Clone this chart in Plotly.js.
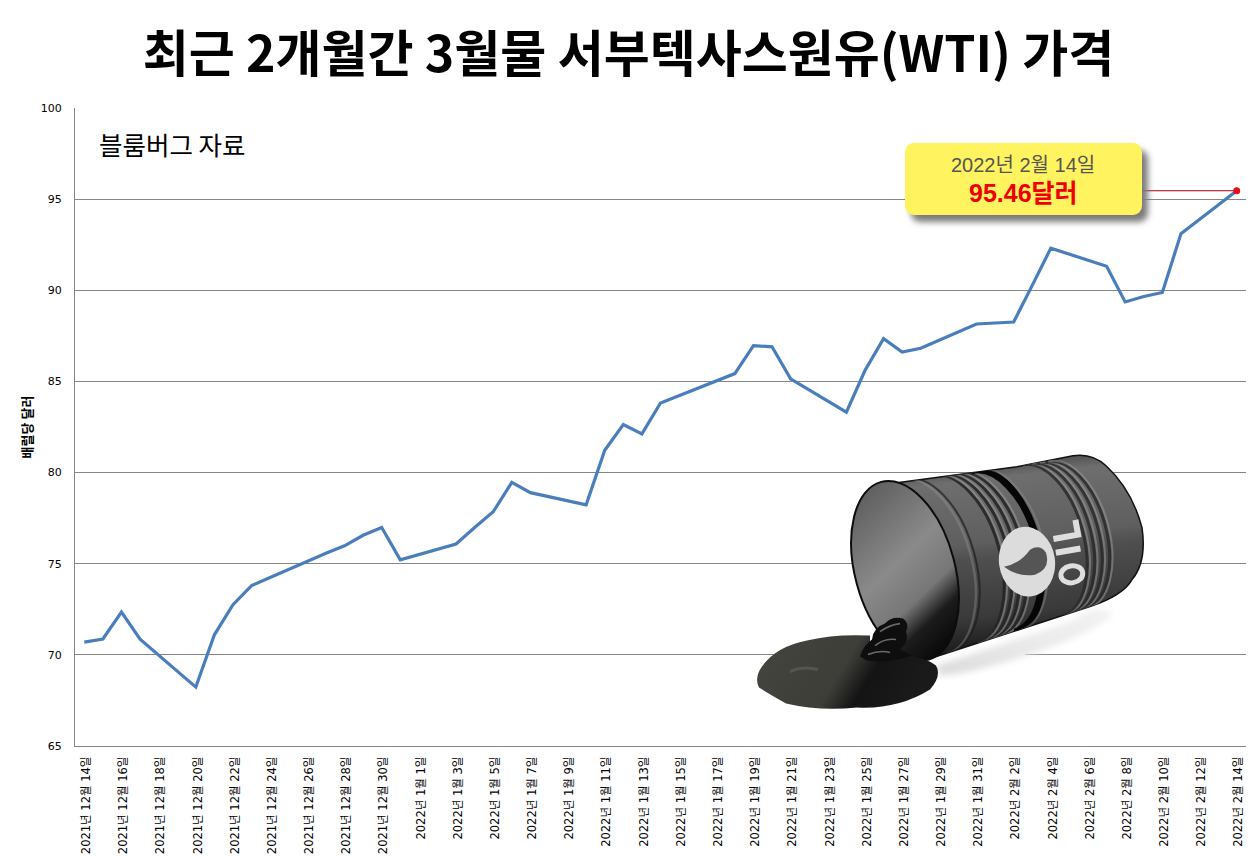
<!DOCTYPE html>
<html><head><meta charset="utf-8">
<script src="https://cdn.plot.ly/plotly-3.0.1.min.js"></script>
<style>html,body{margin:0;padding:0;background:#fff}</style></head>
<body><div id="chart" style="width:1260px;height:863px"></div>
<script>
const titleText = '최근 2개월간 3월물 서부텍사스원유(WTI) 가격';
const yTitle = '배럴당 달러';
const sourceText = '블룸버그 자료';
const dates = ['2021-12-14','2021-12-15','2021-12-16','2021-12-17','2021-12-20','2021-12-21','2021-12-22','2021-12-23','2021-12-27','2021-12-28','2021-12-29','2021-12-30','2021-12-31','2022-01-03','2022-01-04','2022-01-05','2022-01-06','2022-01-07','2022-01-10','2022-01-11','2022-01-12','2022-01-13','2022-01-14','2022-01-18','2022-01-19','2022-01-20','2022-01-21','2022-01-24','2022-01-25','2022-01-26','2022-01-27','2022-01-28','2022-01-31','2022-02-01','2022-02-02','2022-02-03','2022-02-04','2022-02-07','2022-02-08','2022-02-09','2022-02-10','2022-02-11','2022-02-14'];
const prices = [70.7,70.87,72.35,70.86,68.23,71.1,72.75,73.8,75.57,75.98,76.56,76.99,75.21,76.08,76.99,77.85,79.46,78.9,78.23,81.22,82.64,82.12,83.82,85.43,86.96,86.9,85.14,83.31,85.6,87.35,86.61,86.82,88.15,88.2,88.26,90.27,92.31,91.32,89.36,89.66,89.88,93.1,95.46];
const tickDates = ['2021-12-14','2021-12-16','2021-12-18','2021-12-20','2021-12-22','2021-12-24','2021-12-26','2021-12-28','2021-12-30','2022-01-01','2022-01-03','2022-01-05','2022-01-07','2022-01-09','2022-01-11','2022-01-13','2022-01-15','2022-01-17','2022-01-19','2022-01-21','2022-01-23','2022-01-25','2022-01-27','2022-01-29','2022-01-31','2022-02-02','2022-02-04','2022-02-06','2022-02-08','2022-02-10','2022-02-12','2022-02-14'];
const tickLabels = tickDates.map(d=>{const [y,m,a]=d.split('-').map(Number);return `${y}년 ${m}월 ${a}일`;});
const yTicks = [65,70,75,80,85,90,95,100];
const lastDate = dates[dates.length-1], lastPrice = prices[prices.length-1];

// decorative oil-drum illustration (not data)
function rib(dx,w,c,op){const s=1-dx*0.00107,cx=165+dx,cy=121-dx*0.219;
 return `<path d="M${cx-24*s} ${cy-89*s} A${50*s} ${92*s} -15 0 1 ${cx+24*s} ${cy+89*s}" fill="none" stroke="${c}" stroke-width="${w}" opacity="${op||1}"/>`;}
const ribs=[];
[48,56,64,72].forEach(d=>{ribs.push(rib(d,3,'#262626',.9));ribs.push(rib(d+3,2,'#9a9a9a',.55));});
ribs.push(rib(88,7,'#060606'));ribs.push(rib(94,2,'#8a8a8a',.5));ribs.push(rib(18,2.5,'#9a9a9a',.35));ribs.push(rib(22,2,'#1c1c1c',.7));
[136,144,152,160].forEach(d=>{ribs.push(rib(d,3,'#2a2a2a',.85));ribs.push(rib(d+3,2,'#a0a0a0',.5));});
const barrel = `<svg xmlns="http://www.w3.org/2000/svg" width="420" height="270" viewBox="0 0 420 270">
<defs>
<linearGradient id="b" x1="0.42" y1="0" x2="0.58" y2="1"><stop offset="0" stop-color="#3a3a3a"/><stop offset=".12" stop-color="#6e6e6e"/><stop offset=".42" stop-color="#5f5f5f"/><stop offset=".5" stop-color="#4f4f4f"/><stop offset=".78" stop-color="#3a3a3a"/><stop offset="1" stop-color="#111"/></linearGradient>
<linearGradient id="f" x1="0.3" y1="0" x2="0.6" y2="1"><stop offset="0" stop-color="#5c5c5c"/><stop offset=".45" stop-color="#8a8a8a"/><stop offset=".68" stop-color="#777"/><stop offset=".82" stop-color="#1c1c1c"/><stop offset="1" stop-color="#080808"/></linearGradient>
<linearGradient id="p" x1="0" y1="0" x2="1" y2="0.25"><stop offset="0" stop-color="#45453f"/><stop offset=".55" stop-color="#3e3e39"/><stop offset=".72" stop-color="#141414"/><stop offset="1" stop-color="#1a1a1a"/></linearGradient>
<linearGradient id="sh" x1="0" y1="1" x2="1" y2="0"><stop offset="0" stop-color="#dcdcdc"/><stop offset=".6" stop-color="#ececec"/><stop offset="1" stop-color="#f3f3f3"/></linearGradient>
<clipPath id="c"><path d="M157 33 L277 17 L333 6 Q352 3 366 16 Q392 40 402 78 Q407 112 392 130 Q383 146 350 157 L193 208 L160 170 L113 90 Z"/></clipPath>
<filter id="s" x="-20%" y="-50%" width="140%" height="200%"><feGaussianBlur stdDeviation="3"/></filter>
</defs>
<path d="M190 198 H285 V232 H190Z" fill="#fff"/>
<path d="M196 216 L330 172 L350 160 Q372 158 372 166 Q350 186 280 208 Q225 226 200 226Z" fill="url(#sh)" filter="url(#s)"/>
<path d="M157 33 L277 17 L333 6 Q352 3 366 16 Q392 40 402 78 Q407 112 392 130 Q383 146 350 157 L193 208 L160 170 L113 90 Z" fill="url(#b)" stroke="#111" stroke-width="1.5"/>
<g clip-path="url(#c)">${ribs.join('')}</g>
<ellipse cx="165" cy="121" rx="50" ry="92" transform="rotate(-15 165 121)" fill="url(#f)" stroke="#0c0c0c" stroke-width="2"/>
<ellipse cx="287" cy="112" rx="28" ry="35" transform="rotate(-8 287 112)" fill="#dcdcdc"/>
<path d="M264 117 Q280 114 290 100 Q300 94 306 103 Q311 119 295 125 Q278 128 264 117Z" fill="#555"/>
<g fill="none" stroke="#dedede" transform="rotate(-10 328 103)">
<ellipse cx="328" cy="125" rx="11" ry="8.5" stroke-width="5"/>
<path d="M316 101 H341" stroke-width="6"/>
<path d="M316 87 H341 V72" stroke-width="6"/></g>
<path d="M130 186 Q96 184 67 191 Q36 197 22 217 Q14 228 19 238 Q32 246 46 254 Q80 262 117 258 Q158 260 190 240 Q202 226 196 216 Q186 208 165 206 L130 205 Z" fill="url(#p)"/>
<path d="M120 207 Q124 195 132 190 Q133 178 145 174 Q152 166 163 169 Q170 174 166 182 Q170 192 160 200 L172 206 Q150 214 127 211Z" fill="#0e0e0e"/>
<path d="M140 182 Q150 175 160 174 M135 196 Q145 188 156 190 M128 205 Q140 200 150 203" stroke="#6a6a6a" stroke-width="1.6" fill="none"/>
<path d="M50 222 Q62 216 78 220" stroke="#55554e" stroke-width="3" fill="none"/>
</svg>`;
const callout = `<svg xmlns="http://www.w3.org/2000/svg" width="257" height="92" viewBox="0 0 257 92">
<defs><filter id="s" x="-10%" y="-20%" width="120%" height="140%"><feGaussianBlur stdDeviation="3.2"/></filter></defs>
<rect x="6" y="7" width="237" height="72" rx="9" fill="#7a7a7a" filter="url(#s)"/>
<rect x="0" y="0" width="237" height="72" rx="9" fill="#FFF35F"/></svg>`;
const uri = s => 'data:image/svg+xml;charset=utf-8,' + encodeURIComponent(s);

const W=1171, H=638.5, B=746.5;
const px = x => (x-75)/W, py = y => (B-y)/H;
const lineTrace = {x:dates,y:prices,type:'scatter',mode:'lines',line:{color:'#4A7EBB',width:3.2,shape:'linear'},hoverinfo:'x+y'};
const endTrace = {x:[lastDate],y:[lastPrice],type:'scatter',mode:'markers',marker:{color:'#E0101A',size:7},hoverinfo:'x+y'};
const font = '"Noto Sans CJK KR","Noto Sans",sans-serif';
const tickF = '"DejaVu Sans","Noto Sans CJK KR",sans-serif';
const calloutF = '"Liberation Sans","Noto Sans CJK KR",sans-serif';
const layout = {
 width:1260,height:863,showlegend:false,paper_bgcolor:'#fff',plot_bgcolor:'#fff',
 margin:{l:75,r:14,t:108,b:116.5,pad:0},
 font:{family:font,color:'#000'},
 title:{text:titleText,font:{family:font,size:50,color:'#000',weight:700},x:628.5/1260,xanchor:'center',xref:'container',y:0.9365,yanchor:'middle'},
 xaxis:{type:'date',range:['2021-12-13 12:00','2022-02-14 12:00'],tickmode:'array',tickvals:tickDates,ticktext:tickLabels,tickangle:-90,tickfont:{family:tickF,size:11.5,color:'#000'},showgrid:false,showline:true,linecolor:'#868686',linewidth:1,ticks:'outside',ticklen:5,tickcolor:'rgba(0,0,0,0)',ticklabelshift:2,zeroline:false,automargin:false},
 yaxis:{range:[65,100],tickmode:'array',tickvals:yTicks,ticklabelstandoff:10,tickfont:{family:'"DejaVu Sans",sans-serif',size:11,color:'#000'},showgrid:true,gridcolor:'#868686',gridwidth:1,showline:true,linecolor:'#868686',linewidth:1,ticks:'',zeroline:false,title:{text:yTitle,font:{family:font,size:13,color:'#000',weight:700},standoff:5},automargin:true},
 images:[
  {source:uri(barrel),xref:'paper',yref:'paper',xanchor:'left',yanchor:'top',sizing:'stretch',layer:'above',
   x:px(740),y:py(450),sizex:420/W,sizey:270/H},
  {source:uri(callout),xref:'paper',yref:'paper',xanchor:'left',yanchor:'top',sizing:'stretch',layer:'above',
   x:px(905),y:py(143),sizex:257/W,sizey:92/H}
 ],
 shapes:[{type:'line',xref:'x',yref:'y',x0:lastDate,x1:'2022-02-07 19:00',y0:lastPrice,y1:lastPrice,line:{color:'#A00010',width:1.2},layer:'below'}],
 annotations:[
  {text:sourceText,xref:'paper',yref:'paper',x:px(97),y:py(144),xanchor:'left',yanchor:'middle',showarrow:false,font:{family:font,size:25.5,color:'#000'}},
  {text:'2022년 2월 14일',xref:'paper',yref:'paper',x:px(1023),y:py(165),xanchor:'center',yanchor:'middle',showarrow:false,font:{family:calloutF,size:20,color:'#555555'}},
  {text:'<b>95.46달러</b>',xref:'paper',yref:'paper',x:px(1023),y:py(193),xanchor:'center',yanchor:'middle',showarrow:false,font:{family:calloutF,size:25,color:'#EE0000'}}
 ]
};
Plotly.newPlot('chart',[lineTrace,endTrace],layout,{displayModeBar:false,staticPlot:true});
</script></body></html>
